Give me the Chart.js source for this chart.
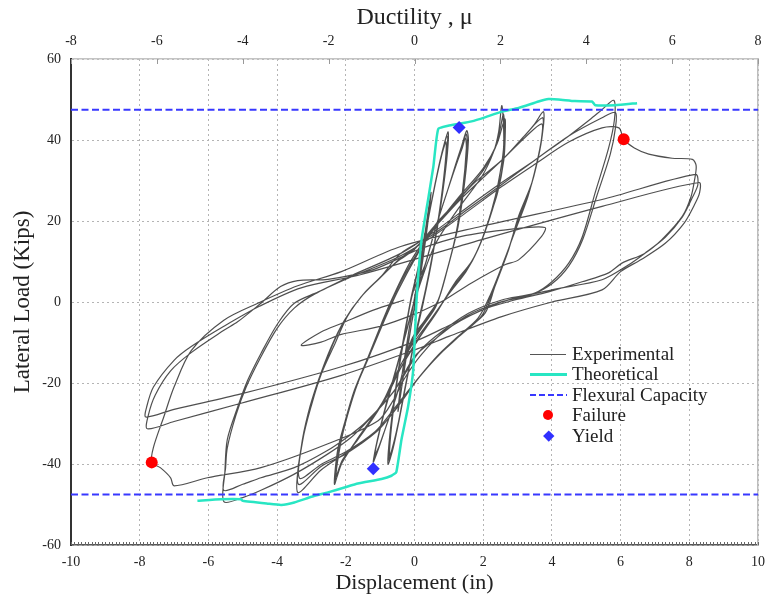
<!DOCTYPE html>
<html><head><meta charset="utf-8">
<script src="https://cdn.jsdelivr.net/npm/chart.js@4.4.1/dist/chart.umd.min.js"></script>
<style>
html,body{margin:0;padding:0;background:#fff;}
#wrap{position:relative;width:767px;height:602px;}
canvas{display:block;}
#legend{position:absolute;left:526px;top:344px;font-family:"Liberation Serif","Times New Roman",serif;font-size:19px;color:#222;}
.row{position:relative;height:20.4px;line-height:20.4px;white-space:nowrap;width:200px;}
.txt{position:absolute;left:46px;top:0;}
.sym{position:absolute;}
</style></head>
<body>
<div id="wrap">
<canvas id="c" width="767" height="602"></canvas>
<div id="legend">
  <div class="row"><div class="sym" style="left:4px;top:9.6px;width:36px;height:1.3px;background:#555;"></div><span class="txt">Experimental</span></div>
  <div class="row"><div class="sym" style="left:4px;top:8.7px;width:37px;height:3px;background:#28e6c3;"></div><span class="txt">Theoretical</span></div>
  <div class="row"><div class="sym" style="left:4px;top:9.2px;width:37px;height:2px;background:repeating-linear-gradient(90deg,#3838ff 0 6px,transparent 6px 9px);"></div><span class="txt">Flexural Capacity</span></div>
  <div class="row"><div class="sym" style="left:17px;top:5.2px;width:10px;height:10px;border-radius:50%;background:#ff0000;"></div><span class="txt">Failure</span></div>
  <div class="row"><div class="sym" style="left:18.5px;top:6.5px;width:7.5px;height:7.5px;background:#3030ff;transform:rotate(45deg);"></div><span class="txt">Yield</span></div>
</div>
</div>
<script>
// ---------------- DATA ----------------
const xTickLabels = [-10,-8,-6,-4,-2,0,2,4,6,8,10];
const ductTickLabels = [-8,-6,-4,-2,0,2,4,6,8];
const yTickLabels = [-60,-40,-20,0,20,40,60];
const flexuralCapacity = 47.5;

const failureDisp = [6.09, -7.65];
const failureLoad = [40.2, -39.6];
const yieldDisp = [1.3, -1.2];
const yieldLoad = [43.1, -41.2];

const theoDisp = [-6.32,-5.63,-5.05,-5.0,-4.27,-3.88,-3.5,-3.0,-2.52,-2.04,-1.65,-0.96,-0.67,-0.53,-0.38,-0.19,-0.04,0.06,0.2,0.4,0.55,0.69,0.98,1.3,1.66,2.05,2.54,3.03,3.61,3.9,4.19,4.67,5.17,5.26,5.84,6.48];
const theoLoad = [-49.1,-48.7,-48.7,-49.1,-49.8,-50.1,-49.5,-48.1,-47,-45.8,-44.8,-43.7,-42.9,-42,-34,-26,-17,0.5,15,25.5,33.5,42.7,43.5,44,44.6,45.6,47,47.9,49.5,50.1,50,49.6,49.5,48.6,48.6,49.1];

// experimental hysteresis, [displacement, load]
const expInitial = [[0,0],[0.12,7],[0.3,17],[0.22,11],[0.08,2],[-0.1,-6],[-0.28,-15],[-0.18,-8],[-0.02,0],[0.2,11],[0.48,27],[0.38,19],[0.18,7],[-0.04,-3],[-0.3,-17],[-0.48,-27],[-0.38,-19],[-0.18,-8],[0,1]];
const expRun1 = [[0.25,13],[0.5,25],[0.72,34],[0.88,39.5],[0.98,42],[0.96,37],[0.82,27],[0.6,15],[0.36,4],[0.12,-5],[-0.15,-16],[-0.42,-28],[-0.62,-36],[-0.77,-40],[-0.72,-33],[-0.56,-22],[-0.36,-11],[-0.14,-1],[0.08,7],
 [0.3,16],[0.55,27],[0.76,35.5],[0.95,41],[0.92,35],[0.77,25],[0.55,13],[0.32,3],[0.08,-6],[-0.18,-17],[-0.45,-29],[-0.64,-36],[-0.75,-39],[-0.69,-31.5],[-0.52,-20],[-0.31,-9],[-0.1,1],[0.12,9],
 [0.34,18],[0.6,29],[0.8,36.5],[0.92,39.5],[0.88,33],[0.72,22],[0.5,10],[0.26,0],[0.02,-9],[-0.25,-20],[-0.5,-31],[-0.66,-36.5],[-0.73,-38],[-0.66,-30],[-0.48,-18],[-0.26,-7],[-0.04,2.5]];
const expRun2 = [[0.3,9],[0.6,18],[0.98,28],[1.2,34],[1.37,38.5],[1.52,42.3],[1.57,40],[1.46,29.5],[1.27,18.7],[0.98,8.8],[0.69,0.5],[0.3,-4.5],[-0.09,-9.4],[-0.48,-21.8],[-0.87,-31.8],[-1.08,-37],[-1.2,-39.5],[-1.1,-35],[-0.9,-28],[-0.67,-21],[-0.29,-9],[0,0.5],
 [0.32,9.5],[0.62,18.5],[1.0,28.5],[1.22,34],[1.38,38],[1.5,41.5],[1.54,39],[1.43,28.5],[1.23,17.5],[0.95,7.8],[0.66,-0.3],[0.27,-5.2],[-0.12,-10.5],[-0.5,-22.5],[-0.88,-32],[-1.07,-36.5],[-1.18,-38.5],[-1.08,-34],[-0.88,-27],[-0.65,-20],[-0.27,-8.2],[0.02,1],
 [0.34,10],[0.64,19],[1.02,29],[1.24,34.5],[1.39,38],[1.48,40.5],[1.51,38],[1.4,27.5],[1.2,16.5],[0.92,7],[0.63,-1],[0.24,-6],[-0.15,-11.5],[-0.52,-23],[-0.88,-32],[-1.05,-36],[-1.15,-37.5],[-1.05,-33],[-0.85,-26],[-0.62,-19],[-0.24,-7.5],[0.05,1.5]];
const expRun3 = [[0.59,14],[1.27,23],[1.96,31],[2.3,37],[2.45,42],[2.54,48.5],[2.59,44],[2.59,37.7],[2.44,29.5],[2.25,22.8],[1.96,15.4],[1.66,10],[1.17,4.7],[0.69,-2],[0.1,-9.4],[-0.38,-16],[-0.87,-24.3],[-1.55,-32.5],[-2.13,-40],[-2.33,-45],
 [-2.24,-36.7],[-2.04,-30],[-1.75,-21.8],[-1.35,-13.6],[-0.96,-5.3],[-0.67,0.5],[-0.09,10.4],[0.59,18.7],[1.27,25.3],[1.96,32],[2.35,38],[2.5,43],[2.59,46.4],
 [2.62,42],[2.6,36],[2.44,28],[2.2,21],[1.9,14],[1.6,9],[1.1,3.5],[0.6,-3],[0,-10.5],[-0.45,-17],[-0.95,-25],[-1.6,-33],[-2.1,-39.5],[-2.3,-44],
 [-2.2,-36],[-2.0,-29],[-1.7,-21],[-1.3,-13],[-0.9,-4.5],[-0.6,1.5],[0,11],[0.65,19],[1.3,26],[2.0,33],[2.4,39],[2.63,45.2],
 [2.64,41],[2.6,35],[2.42,27],[2.15,20],[1.85,13],[1.5,7.5],[1.0,2],[0.5,-4],[-0.1,-11],[-0.55,-18],[-1.0,-26],[-1.65,-34],[-2.1,-39],[-2.28,-43],
 [-2.15,-35],[-1.95,-28],[-1.65,-20],[-1.25,-12],[-0.85,-4],[-0.5,2.5],[0.1,12]];
const expRun4 = [[0.6,19],[1.2,24.5],[1.75,29.5],[2.54,35],[3.2,41],[3.5,44],[3.75,47],
 [3.76,44],[3.65,37.7],[3.42,29.5],[3.03,21.2],[2.74,12.9],[2.34,3.8],[2.05,-2.8],[1.4,-7.5],[0.7,-13],[0.1,-19],[-0.5,-26],[-1.06,-31.5],[-2.04,-37.5],[-2.72,-41.5],[-3.4,-47],
 [-3.3,-36],[-3.1,-27.6],[-2.8,-19.4],[-2.42,-11],[-2.04,-4.5],[-1.55,1.3],[-1.06,5.5],[-0.5,10],[0,13],[0.6,19],[1.2,24.5],[1.75,29.5],[2.54,35],[3.2,41],[3.72,45.5],
 [3.73,42],[3.6,35.5],[3.35,27.5],[2.98,19.5],[2.68,11.5],[2.28,2.8],[1.95,-3.5],[1.3,-8.5],[0.6,-14],[0,-20],[-0.6,-27],[-1.1,-32],[-2.0,-37.5],[-2.7,-40.5],[-3.38,-45],
 [-3.28,-35],[-3.05,-26.5],[-2.75,-18.5],[-2.38,-10.5],[-2.0,-4],[-1.5,1.8],[-1.0,6],[-0.45,10.5],[0.1,14],[0.7,19.5],[1.3,25],[1.85,29.5],[2.6,35.5],[3.2,40.5],[3.7,44],
 [3.7,40.5],[3.55,34],[3.3,26],[2.95,18],[2.62,10.5],[2.22,2],[1.85,-4],[1.2,-9],[0.5,-15],[-0.1,-21],[-0.7,-27.5],[-1.15,-32],[-2.0,-37],[-2.7,-40],[-3.35,-43.5],
 [-3.25,-34],[-3.0,-25.5],[-2.7,-17.5],[-2.3,-10],[-1.95,-3.5],[-1.45,2.3],[-0.95,6.5]];
const expRun5 = [[-0.4,12],[0.6,17],[1.57,23],[2.54,29],[3.5,35],[4.49,41],[5.1,45],[5.46,47.5],[5.8,49.8],
 [5.82,45],[5.65,38],[5.26,27],[4.88,16],[4.49,9.6],[4.0,5],[3.5,2.2],[2.54,0.5],[1.57,-2.8],[0.6,-8.6],[0.1,-12.7],[-0.58,-21.8],[-1.35,-29.3],[-1.84,-33.4],[-2.52,-37.5],[-3.5,-42.5],[-4.47,-46.5],[-5.0,-48.3],[-5.55,-49.3],
 [-5.52,-42],[-5.45,-34],[-5.15,-26],[-4.86,-19.4],[-4.47,-12.7],[-3.98,-5.3],[-3.5,-0.3],[-2.8,2.5],[-1.84,6.5],[-0.4,12],[0.6,17.5],[1.57,23.6],[2.54,29.5],[3.5,35],[4.49,41],[5.46,45.5],[5.85,46.8],
 [5.85,43],[5.7,36.5],[5.3,26],[4.9,15.5],[4.5,9],[4.0,4.5],[3.4,1.8],[2.5,0],[1.5,-3.5],[0.55,-9.5],[0,-13.5],[-0.6,-22],[-1.4,-29.5],[-1.9,-33],[-2.6,-37],[-3.5,-40.9],[-4.47,-43.4],[-5.0,-45],[-5.55,-46.5],
 [-5.5,-41],[-5.45,-36],[-5.2,-28],[-4.9,-21],[-4.5,-14],[-4.0,-6.5],[-3.5,-1.5],[-2.9,2],[-1.9,6],[-0.5,11],[0.5,16],[1.57,22.5],[2.54,28.5],[3.5,34],[4.49,39.5],[5.46,43],[5.95,43]];
const expFailure = [[6.09,40.2],[6.4,38],[6.82,36.5],[7.5,35.5],[8.09,35.2],[8.2,33.6],[8.15,30],[8.05,26],[7.8,21.2],[7.2,15.4],[6.7,12],[6.04,9.6],[5.65,7.2],[4.88,5],[3.9,2.5],[2.92,0.5],[1.96,-2],[0.9,-7],[0.2,-13],[-0.3,-19],[-0.6,-24],[-1.06,-29.3],[-2.52,-35],[-4.47,-40.9],[-6.03,-43.4],[-7.0,-45.4],[-7.1,-43.4],[-7.4,-40.9],[-7.65,-39.6],
 [-7.6,-35.9],[-7.3,-28.4],[-7.0,-21],[-6.5,-12],[-5.55,-4.5],[-4.56,-0.3],[-3.4,4],[-2.13,7.5],[-0.4,13.7],[1.96,18.7],[5.46,25.3],[8.18,31.5]];
const expPost1 = [[8.25,29],[8.1,26],[7.8,21],[7.3,16],[6.7,12],[6.2,9],[5.46,5.5],[4.0,3],[2.54,0],[1.2,-5],[0.1,-9.4],[-2.13,-16],[-5.05,-22.7],[-7.0,-26.5],[-7.82,-28.4],
 [-7.8,-26],[-7.6,-21],[-7.0,-14.4],[-6.5,-11],[-5.55,-6],[-4.5,-1],[-3.3,3.5],[-1.55,6.8],[1.96,15.4],[5.46,23.6],[8.28,29.5]];
const expPost2 = [[8.3,27],[8.15,24],[7.85,19.5],[7.3,14.5],[6.6,10.5],[6.0,7.5],[5.46,3],[4.0,0],[2.54,-3.6],[1.0,-8.5],[0.1,-11.5],[-2.13,-18.1],[-5.05,-25],[-7.0,-29.5],[-7.78,-31.3],
 [-7.75,-28],[-7.55,-23],[-7.1,-17],[-6.5,-12.5],[-5.55,-7],[-5.15,-4.9],[-4.5,-0.5],[-3.9,3.8],[-3.4,5.3],[-2.52,5.6],[-1.2,8],[0.1,12.9],[1.37,16.2],[2.83,18],[3.8,18.4],
 [3.7,16.2],[3.03,10.4],[2.63,9.2],[1.66,4.7],[0.88,0.5],[0.69,-0.3],[0,-3],[-1,-6],[-2.13,-8],[-2.72,-9.9],[-3.3,-10.7],[-2.72,-7.4],[-2.13,-5.3],[-1.2,-2],[-0.3,0.5]];

// ---------------- BUILD ----------------
const FONT = "'Liberation Serif','Times New Roman',serif";
const toPts = arr => arr.map(p => ({x:p[0], y:p[1]}));
const expPts = toPts([].concat(expInitial, expRun1, expRun2, expRun3, expRun4, expRun5, expFailure, expPost1, expPost2));
const theoPts = theoDisp.map((d,i)=>({x:d, y:theoLoad[i]}));
const failPts = failureDisp.map((d,i)=>({x:d, y:failureLoad[i]}));
const yieldPts = yieldDisp.map((d,i)=>({x:d, y:yieldLoad[i]}));
const xMin = xTickLabels[0], xMax = xTickLabels[xTickLabels.length-1];

const tickPlugin = {
  id:'innerTicks',
  afterDatasetsDraw(chart){
    const ctx = chart.ctx, xs = chart.scales.x, x2 = chart.scales.x2, a = chart.chartArea;
    ctx.save();
    ctx.strokeStyle = '#666'; ctx.lineWidth = 1;
    ctx.beginPath();
    for (let i = xMin*10; i <= xMax*10; i++) {
      const px = Math.round(xs.getPixelForValue(i/10)) + 0.5;
      ctx.moveTo(px, a.bottom); ctx.lineTo(px, a.bottom - 3);
    }
    ctx.stroke();
    ctx.strokeStyle = '#999';
    ctx.beginPath();
    x2.ticks.forEach(t => {
      const px = Math.round(x2.getPixelForValue(t.value)) + 0.5;
      ctx.moveTo(px, a.top); ctx.lineTo(px, a.top + 5);
    });
    ctx.stroke();
    ctx.restore();
  }
};

new Chart(document.getElementById('c'), {
  type:'scatter',
  data:{ datasets:[
    {label:'Failure', data:failPts, pointStyle:'circle', pointRadius:6, backgroundColor:'#ff0000', borderColor:'#ff0000', borderWidth:0, showLine:false, order:0},
    {label:'Yield', data:yieldPts, pointStyle:'rectRot', pointRadius:6.5, backgroundColor:'#3030ff', borderColor:'#3030ff', borderWidth:0, showLine:false, order:0},
    {label:'Flexural Capacity', data:[{x:xMin,y:flexuralCapacity},{x:xMax,y:flexuralCapacity}], showLine:true, borderColor:'#3838ff', borderWidth:2, borderDash:[7,3.5], pointRadius:0, order:1},
    {label:'Flexural Capacity -', data:[{x:xMin,y:-flexuralCapacity},{x:xMax,y:-flexuralCapacity}], showLine:true, borderColor:'#3838ff', borderWidth:2, borderDash:[7,3.5], pointRadius:0, order:1},
    {label:'Theoretical', data:theoPts, showLine:true, borderColor:'#28e6c3', borderWidth:2.5, pointRadius:0, tension:0.15, order:2},
    {label:'Experimental', data:expPts, showLine:true, borderColor:'rgba(30,30,30,0.78)', borderWidth:1.2, pointRadius:0, tension:0.3, order:3}
  ]},
  options:{
    responsive:false, animation:false, events:[],
    layout:{padding:{left:0,right:0,top:0,bottom:0}},
    plugins:{legend:{display:false}, tooltip:{enabled:false}},
    scales:{
      x:{type:'linear', position:'bottom', min:xMin, max:xMax,
        afterBuildTicks(s){ s.ticks = xTickLabels.map(v=>({value:v})); },
        ticks:{padding:9, color:'#222', font:{family:FONT,size:14}},
        grid:{color:'#b4b4b4', lineWidth:1, drawTicks:false},
        border:{color:'#555', width:1.5, dash:[2,3]},
        title:{display:true, text:'Displacement (in)', color:'#222', font:{family:FONT,size:22}, padding:{top:0,bottom:6}},
        afterFit(s){ s.height = 57; s.paddingLeft = 0; s.paddingRight = 0; }
      },
      x2:{type:'linear', position:'top', min:ductTickLabels[0], max:ductTickLabels[ductTickLabels.length-1],
        afterBuildTicks(s){ s.ticks = ductTickLabels.map(v=>({value:v})); },
        ticks:{padding:9, color:'#222', font:{family:FONT,size:14}},
        grid:{drawOnChartArea:false, drawTicks:false},
        border:{color:'#c4c4c4', width:1.5},
        title:{display:true, text:'Ductility , μ', color:'#222', font:{family:FONT,size:24}, padding:{top:3,bottom:0}},
        afterFit(s){ s.height = 59; s.paddingLeft = 0; s.paddingRight = 0; }
      },
      y:{type:'linear', position:'left', min:yTickLabels[0], max:yTickLabels[yTickLabels.length-1],
        afterBuildTicks(s){ s.ticks = yTickLabels.map(v=>({value:v})); },
        ticks:{padding:10, color:'#222', font:{family:FONT,size:14}},
        grid:{color:'#b4b4b4', lineWidth:1, drawTicks:false},
        border:{color:'#333', width:2, dash:[2,3]},
        title:{display:true, text:'Lateral Load (Kips)', color:'#222', font:{family:FONT,size:23}, padding:{top:9,bottom:0}},
        afterFit(s){ s.width = 71; s.paddingTop = 0; s.paddingBottom = 0; }
      },
      y2:{type:'linear', position:'right', min:-60, max:60,
        ticks:{display:false},
        grid:{drawOnChartArea:false, drawTicks:false},
        border:{color:'#bdbdbd', width:1.5},
        afterFit(s){ s.width = 9; }
      }
    }
  },
  plugins:[tickPlugin]
});
</script>
</body></html>
